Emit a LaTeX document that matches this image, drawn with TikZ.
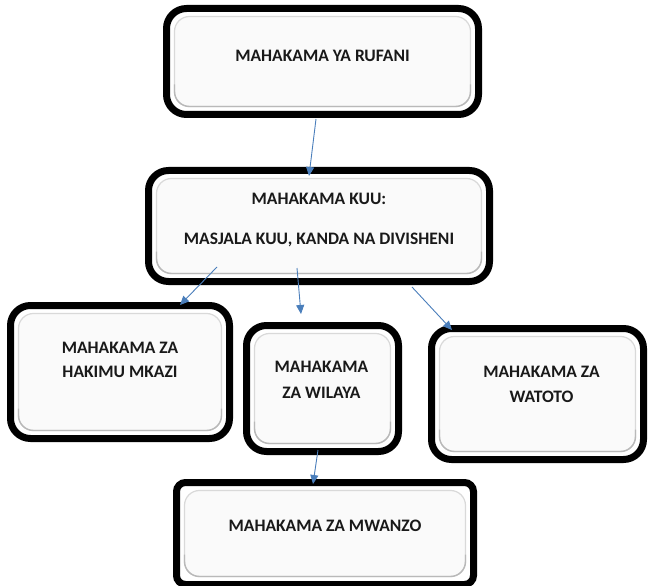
\documentclass[tikz,border=0pt]{standalone}
\usepackage{fontspec}
\setmainfont{Carlito}
\usetikzlibrary{arrows.meta,calc}
\definecolor{arrowblue}{RGB}{74,126,187}
\tikzset{
  courtbox/.style={draw=black, line width=7pt, fill=white, rounded corners=20pt,
    inner sep=0pt, minimum width=#1,
    path picture={
      \draw[draw=gray!30, fill=gray!4, line width=1.2pt, rounded corners=15pt]
        ([shift={(8pt,8pt)}]path picture bounding box.south west) rectangle
        ([shift={(-8pt,-8pt)}]path picture bounding box.north east);
      \draw[draw=gray!55, line width=1.4pt, rounded corners=15pt]
        ([shift={(8pt,30pt)}]path picture bounding box.south west) --
        ([shift={(8pt,8pt)}]path picture bounding box.south west) --
        ([shift={(-8pt,8pt)}]path picture bounding box.south east) --
        ([shift={(-8pt,30pt)}]path picture bounding box.south east);
    }},
  flatbox/.style={courtbox=#1, rounded corners=9pt},
  txt/.style={font=\bfseries\fontsize{17.5}{20}\selectfont, text=black!90, align=center, inner sep=0pt},
  arr/.style={draw=arrowblue, line width=0.9pt, -{Triangle[length=9pt,width=8pt]}}
}
\begin{document}
\begin{tikzpicture}[x=1pt,y=-1pt]
\useasboundingbox (0,0) rectangle (649,586);

\node[courtbox=312pt, minimum height=106pt,
  label={[txt,yshift=6pt]center:MAHAKAMA YA RUFANI}] (rufani) at (322.5,61.5) {};
\node[courtbox=341pt, minimum height=111pt,
  label={[txt,yshift=6pt]center:MAHAKAMA KUU:\\[20pt]MASJALA KUU, KANDA NA DIVISHENI}] (kuu) at (319,226) {};
\node[courtbox=219pt, minimum height=133pt,
  label={[txt,yshift=12pt]center:MAHAKAMA ZA\\[4pt]HAKIMU MKAZI}] (hakimu) at (120,372) {};
\node[courtbox=152pt, minimum height=126pt,
  label={[txt,yshift=9pt,xshift=-1pt]center:MAHAKAMA\\[6pt]ZA WILAYA}] (wilaya) at (322.5,388.5) {};
\node[courtbox=212pt, minimum height=131pt,
  label={[txt,yshift=10pt,xshift=4pt]center:MAHAKAMA ZA\\[5pt]WATOTO}] (watoto) at (537.5,394) {};
\node[flatbox=297pt, minimum height=102pt,
  label={[txt,yshift=8pt]center:MAHAKAMA ZA MWANZO}] (mwanzo) at (325,533.5) {};

\coordinate (s1) at (316,119);
\coordinate (e1) at (309,176);
\coordinate (s2) at (217,267);
\coordinate (e2) at (180,305);
\coordinate (s3) at (297,268);
\coordinate (e3) at (301,314);
\coordinate (s4) at (412,287);
\coordinate (e4) at (452,330);
\coordinate (s5) at (318,450);
\coordinate (e5) at (313,484);

\draw[arr] (s1) -- (e1);
\draw[arr] (s2) -- (e2);
\draw[arr] (s3) -- (e3);
\draw[arr] (s4) -- (e4);
\draw[arr] (s5) -- (e5);
\end{tikzpicture}
\end{document}
